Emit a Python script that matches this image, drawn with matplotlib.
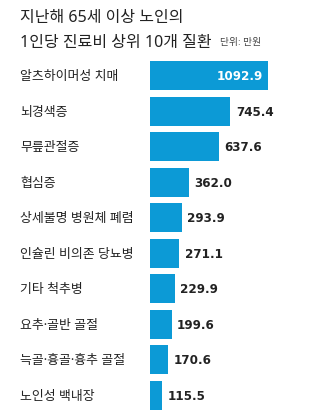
import matplotlib
matplotlib.use("Agg")
import matplotlib.pyplot as plt
from matplotlib.transforms import blended_transform_factory

plt.rcParams['font.family'] = ['Noto Sans', 'Noto Sans CJK KR', 'DejaVu Sans']

categories = ["알츠하이머성 치매", "뇌경색증", "무릎관절증", "협심증", "상세불명 병원체 폐렴",
              "인슐린 비의존 당뇨병", "기타 척추병", "요추·골반 골절", "늑골·흉골·흉추 골절", "노인성 백내장"]
values = [1092.9, 745.4, 637.6, 362.0, 293.9, 271.1, 229.9, 199.6, 170.6, 115.5]
title_lines = ["지난해 65세 이상 노인의", "1인당 진료비 상위 10개 질환"]
unit_label = "단위: 만원"

W, H = 316, 414
fig = plt.figure(figsize=(W / 100, H / 100), dpi=100)
fig.patch.set_facecolor('white')

bar_color = '#0c9ad6'
pitch = 35.5
bh = 0.82
top_px = 62
span = (len(values) - 1) * pitch + bh * pitch
left_px = 150
px_per_unit = 118 / 1092.9
ax = fig.add_axes([left_px / W, (H - top_px - span) / H, (W - left_px) / W, span / H])
pos = list(range(len(values)))
ax.barh(pos, values, height=bh, color=bar_color)
ax.set_ylim(len(values) - 1 + bh / 2, -bh / 2)
ax.set_xlim(0, (W - left_px) / px_per_unit)
ax.axis('off')

num_font = dict(family=['DejaVu Sans'], stretch='condensed', weight='bold', fontsize=9.5)
for i, v in enumerate(values):
    txt = f"{v:.1f}"
    if i == 0:
        ax.annotate(txt, xy=(v, i), xytext=(-3.5, 0), textcoords='offset points',
                    ha='right', va='center', color='white', **num_font)
    else:
        ax.annotate(txt, xy=(v, i), xytext=(4, 0), textcoords='offset points',
                    ha='left', va='center', color='#222222', **num_font)

trans = blended_transform_factory(fig.transFigure, ax.transData)
for i, c in enumerate(categories):
    ax.text(20 / W, i, c, transform=trans, ha='left', va='center', fontsize=9.3, color='#222222')

fig.text(20 / W, 1 - 18 / H, title_lines[0], ha='left', va='center', fontsize=11.5, color='#222222')
fig.text(20 / W, 1 - 43 / H, title_lines[1], ha='left', va='center', fontsize=11.5, color='#222222')
fig.text(220 / W, 1 - 43 / H, unit_label, ha='left', va='center', fontsize=7, color='#444444')

fig.savefig('out.png', dpi=100, facecolor='white')
